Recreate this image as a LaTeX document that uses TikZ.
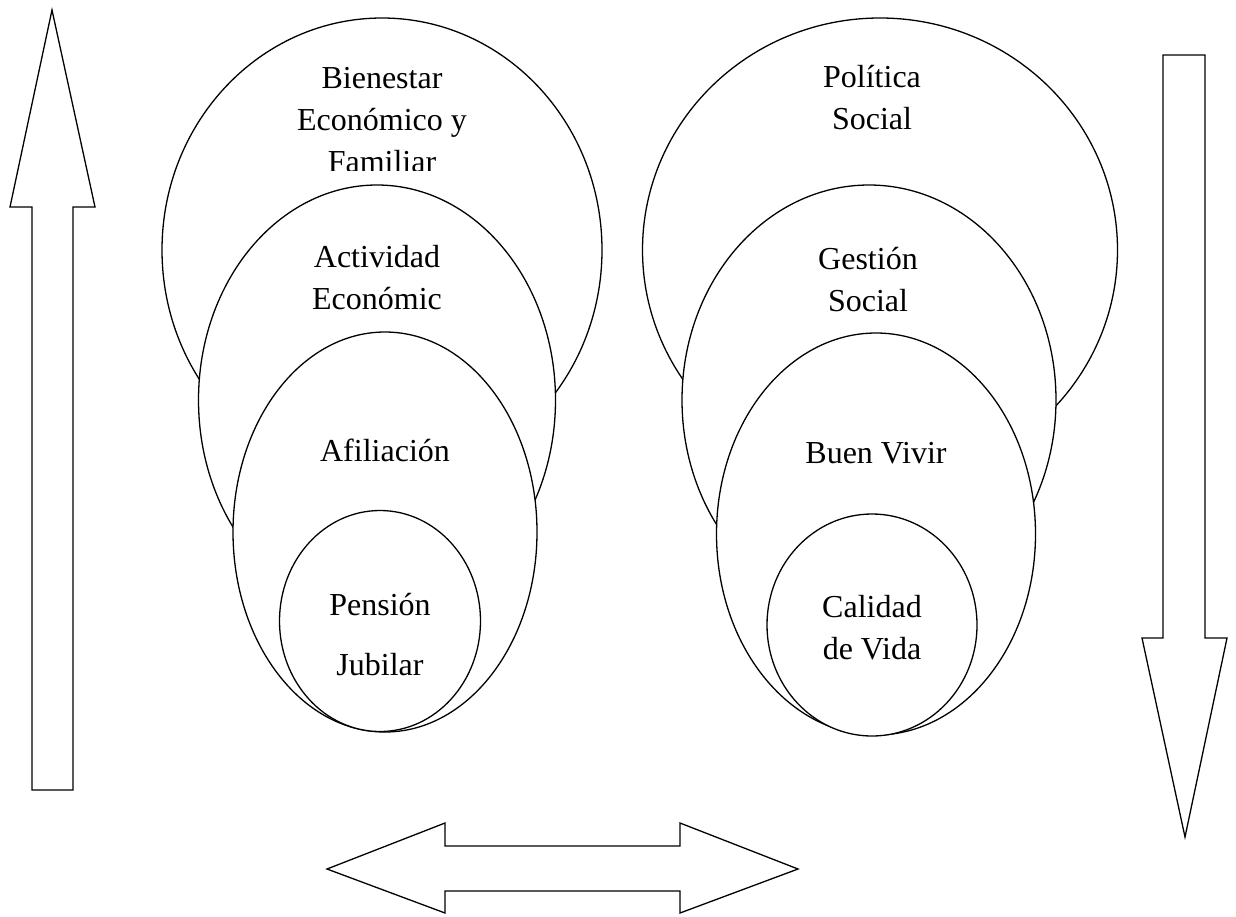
\documentclass[tikz,border=0pt]{standalone}
\usepackage{fontspec}
\setmainfont{Liberation Serif}
\usetikzlibrary{shapes.geometric}
\begin{document}
\begin{tikzpicture}[x=1pt,y=-1pt, line width=1.3pt,
  ring/.style={draw, fill=white, ellipse, inner sep=0pt},
  lbl/.style={font=\fontsize{32}{42}\selectfont, align=center, inner sep=0pt},
  blockarrow/.style={draw, fill=white, line join=miter}]
\useasboundingbox (0,0) rectangle (1236,916);

% Left group
\node[ring, minimum width=440pt, minimum height=464pt] (l1) at (382,250) {};
\begin{scope}
\clip (0,0) rectangle (1236,170);
\node[lbl] (t1) at (382,120) {Bienestar\\Económico y\\Familiar};
\end{scope}
\node[ring, minimum width=357pt, minimum height=430pt] (l2) at (377,400) {};
\node[lbl] (t2) at (377,278) {Actividad\\Económic};
\node[ring, minimum width=304pt, minimum height=400pt] (l3) at (385,532) {};
\node[lbl] (t3) at (385,450) {Afiliación};
\node[ring, minimum width=201pt, minimum height=221pt] (l4) at (380,621) {};
\node[lbl] (t4) at (380,635) {Pensión\\[18pt]Jubilar};

% Right group
\node[ring, minimum width=475pt, minimum height=464pt] (r1) at (880,250) {};
\node[lbl] (s1) at (872,98) {Política\\Social};
\node[ring, minimum width=374pt, minimum height=430pt] (r2) at (869,400) {};
\node[lbl] (s2) at (868,280) {Gestión\\Social};
\node[ring, minimum width=319pt, minimum height=402pt] (r3) at (876,534) {};
\node[lbl] (s3) at (876,453) {Buen Vivir};
\node[ring, minimum width=210pt, minimum height=222pt] (r4) at (872,625) {};
\node[lbl] (s4) at (872,628) {Calidad\\de Vida};

% Arrows
\draw[blockarrow] (52,10) -- (95,207) -- (73,207) -- (73,790) -- (32,790) -- (32,207) -- (10,207) -- cycle;
\draw[blockarrow] (1163,55) -- (1205,55) -- (1205,638) -- (1227,638) -- (1185,837) -- (1142,638) -- (1163,638) -- cycle;
\draw[blockarrow] (327,869) -- (445,823) -- (445,846) -- (680,846) -- (680,823) -- (798,869) -- (680,913) -- (680,891) -- (445,891) -- (445,913) -- cycle;
\end{tikzpicture}
\end{document}
